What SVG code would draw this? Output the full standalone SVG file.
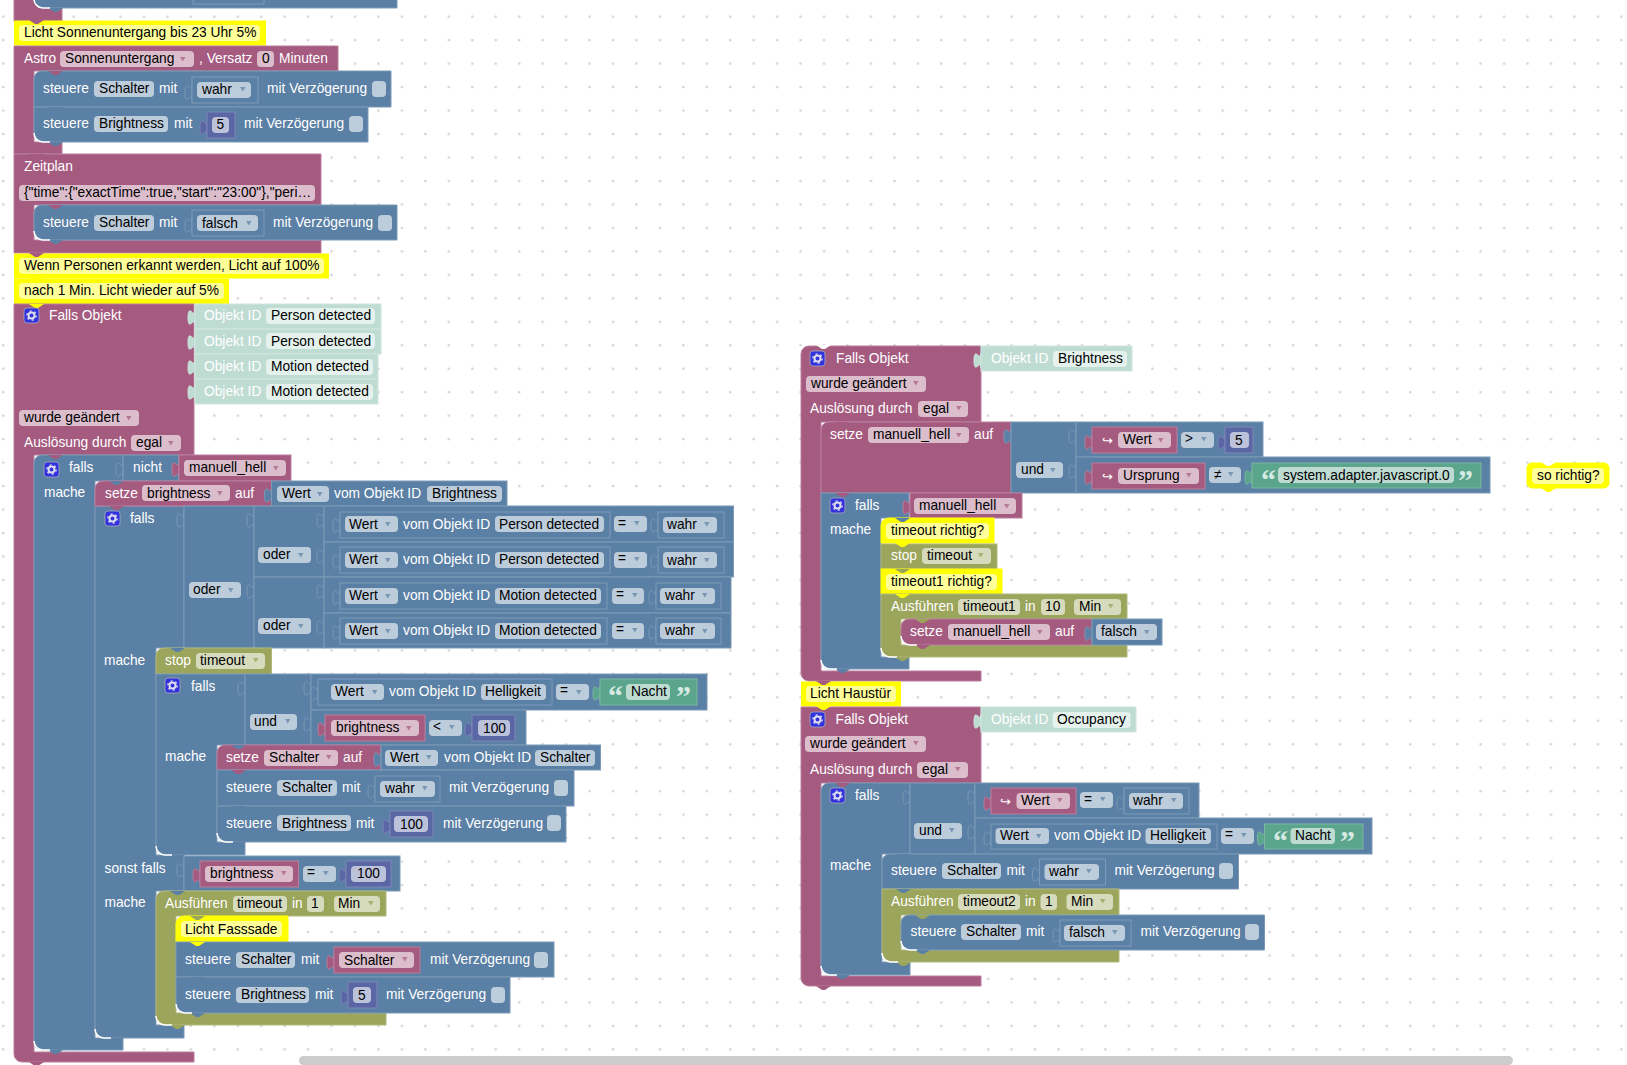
<svg xmlns="http://www.w3.org/2000/svg" width="1627" height="1065" viewBox="0 0 1627 1065">
<style>
text{font-family:"Liberation Sans",Arial,sans-serif;font-size:13.75px}
.t{fill:#fff}.d{fill:#000}
.m{fill:#a55b80;stroke:#bb7f9e}.b{fill:#5b80a5;stroke:#7c99b7}.o{fill:#9ba55b;stroke:#b0b87c}.n{fill:#5b67a5;stroke:#7c85b7}.g{fill:#5ba58c;stroke:#7cb7a3}.y{fill:#ff0;stroke:#ff0}.l{fill:#bfdcd3;stroke:#d0e6de}
.nm{fill:#a55b80}.nb{fill:#5b80a5}.no{fill:#9ba55b}.ny{fill:#ff0}.nw{fill:#fff}
.f{fill:#fff;opacity:.6;height:16px;rx:4px;ry:4px}
.am{fill:#a55b80;opacity:.7}.ab{fill:#5b80a5;opacity:.7}.ao{fill:#9ba55b;opacity:.8}
.w{fill:none;stroke:#fff;stroke-width:1.5}
.q{font-family:"Liberation Serif",serif;font-size:30px;font-weight:bold;fill:#d6eae3}
.ar{font-family:"DejaVu Sans",sans-serif;font-size:13px;fill:#fff}
</style>
<defs>
<pattern id="grid" width="23.45" height="23.47" patternUnits="userSpaceOnUse"><circle cx="3.3" cy="16.7" r="1.3" fill="#d2d2d2"/></pattern>
<path id="c" d="M0,0l6,4h3l6,-4z"/>
<path id="p" d="M0,5c0,10 -7,-8 -7,7.5s7,-2.5 7,7.5z"/>
<path id="a" d="M1,0h5.500l-2.750,4.500z"/>
<path id="k" class="w" d="M0,-9a9,9 0 0 0 9,9h7"/>
<g id="i"><rect x="0" y="0" width="15" height="15" rx="3" fill="#3333dd" stroke="#aab" stroke-width=".8"/><circle cx="7.5" cy="7.5" r="3" fill="none" stroke="#dde" stroke-width="2"/><circle cx="7.5" cy="7.5" r="4.6" fill="none" stroke="#dde" stroke-width="1.4" stroke-dasharray="2 2.8"/></g>
</defs>
<rect width="1627" height="1065" fill="#fff"/>
<rect width="1627" height="1065" fill="url(#grid)"/>

<g id="top-remnant">
<rect class="m" x="14" y="-5" width="48" height="26"/>
<path class="b" d="M34,-10H397V8H42a8,8 0 0 1 -8,-8z"/>
<rect class="b" x="193" y="-6" width="71" height="10"/>
<use href="#c" class="nb" x="48" y="8"/><use href="#k" x="34" y="8"/>
</g>
<g id="comment-sunset">
<rect class="y" x="14.500" y="21" width="251" height="24"/><use href="#c" class="nm" x="29" y="20"/>
<rect class="f" x="19" y="25" width="241"/><text class="d" x="24" y="37">Licht Sonnenuntergang bis 23 Uhr 5%</text>
<use href="#c" class="ny" x="29" y="45"/>
</g>
<g id="astro">
<path class="m" d="M14,46H338V71H34V142H62V154H14z"/>
<text class="t" x="24" y="63">Astro</text>
<rect class="f" x="60" y="51" width="134"/><text class="d" x="65" y="63">Sonnenuntergang</text><use href="#a" class="am" x="179" y="57"/>
<text class="t" x="199" y="63">, Versatz</text>
<rect class="f" x="257" y="51" width="17"/><text class="d" x="262" y="63">0</text>
<text class="t" x="279" y="63">Minuten</text>
</g>
<g id="astro-schalter">
<path class="b" d="M42,71H391V107H34V79a8,8 0 0 1 8,-8z"/><use href="#c" class="nm" x="48" y="71"/>
<text class="t" x="43" y="93">steuere</text>
<rect class="f" x="94" y="81" width="60"/><text class="d" x="99" y="93">Schalter</text>
<text class="t" x="159" y="93">mit</text>
<use href="#p" class="b" x="192" y="80"/><rect class="b" x="192" y="77" width="66" height="26"/>
<rect class="f" x="197" y="82" width="54"/><text class="d" x="202" y="94">wahr</text><use href="#a" class="ab" x="239" y="87"/>
<text class="t" x="267" y="93">mit Verzögerung</text>
<rect class="f" x="372" y="81" width="14"/>
</g>
<g id="astro-brightness">
<path class="b" d="M34,107H368V142H42a8,8 0 0 1 -8,-8z"/><use href="#c" class="nb" x="48" y="107"/>
<text class="t" x="43" y="128">steuere</text>
<rect class="f" x="94" y="116" width="74"/><text class="d" x="99" y="128">Brightness</text>
<text class="t" x="174" y="128">mit</text>
<use href="#p" class="n" x="207" y="115"/><rect class="n" x="207" y="112" width="28" height="26"/>
<rect class="f" x="212" y="117" width="17"/><text class="d" x="216.500" y="129">5</text>
<text class="t" x="244" y="128">mit Verzögerung</text>
<rect class="f" x="349" y="116" width="14"/>
<use href="#c" class="nb" x="48" y="142"/><use href="#k" x="34" y="142"/>
</g>
<g id="zeitplan">
<path class="m" d="M14,154H321V205H34V240H321V253H14z"/><use href="#c" class="nm" x="29" y="154"/>
<text class="t" x="24" y="171">Zeitplan</text>
<rect class="f" x="19" y="185" width="296"/><text class="d" x="24" y="197">{"time":{"exactTime":true,"start":"23:00"},"peri…</text>
</g>
<g id="zeitplan-schalter">
<path class="b" d="M42,205H397V240H42a8,8 0 0 1 -8,-8V213a8,8 0 0 1 8,-8z"/><use href="#c" class="nm" x="48" y="205"/>
<text class="t" x="43" y="227">steuere</text>
<rect class="f" x="94" y="215" width="60"/><text class="d" x="99" y="227">Schalter</text>
<text class="t" x="159" y="227">mit</text>
<use href="#p" class="b" x="192" y="213"/><rect class="b" x="192" y="210" width="72" height="26"/>
<rect class="f" x="197" y="215" width="61"/><text class="d" x="202" y="228">falsch</text><use href="#a" class="ab" x="245" y="221"/>
<text class="t" x="273" y="227">mit Verzögerung</text>
<rect class="f" x="378" y="215" width="14"/>
<use href="#c" class="nb" x="48" y="240"/><use href="#k" x="34" y="240"/>
</g>
<g id="comment-personen">
<rect class="y" x="14.500" y="254" width="314" height="24"/><use href="#c" class="nm" x="29" y="253"/>
<rect class="f" x="19" y="258" width="305"/><text class="d" x="24" y="270">Wenn Personen erkannt werden, Licht auf 100%</text>
</g>
<g id="comment-minute">
<rect class="y" x="14.500" y="279" width="214" height="25"/><use href="#c" class="ny" x="29" y="278"/>
<rect class="f" x="19" y="283" width="205"/><text class="d" x="24" y="295">nach 1 Min. Licht wieder auf 5%</text>
</g>

<g id="trigger-left">
<path class="m" d="M14,304H194V455H34V1052H194V1062H22a8,8 0 0 1 -8,-8z"/><use href="#c" class="ny" x="29" y="304"/>
<use href="#i" x="24" y="308"/><text class="t" x="49" y="320">Falls Objekt</text>
<rect class="f" x="19" y="410" width="120"/><text class="d" x="24" y="422">wurde geändert</text><use href="#a" class="am" x="125" y="416"/>
<text class="t" x="24" y="447">Auslösung durch</text>
<rect class="f" x="131" y="435" width="50"/><text class="d" x="136" y="447">egal</text><use href="#a" class="am" x="167" y="441"/>
<use href="#c" class="nm" x="29" y="1062"/>
</g>
<g id="oid-person1"><use href="#p" class="l" x="195" y="305"/><rect class="l" x="195" y="304" width="186" height="25"/><text class="t" x="204" y="320">Objekt ID</text><rect class="f" x="266" y="308" width="109"/><text class="d" x="271" y="320">Person detected</text></g>
<g id="oid-person2"><use href="#p" class="l" x="195" y="330"/><rect class="l" x="195" y="329" width="186" height="25"/><text class="t" x="204" y="346">Objekt ID</text><rect class="f" x="266" y="333" width="109"/><text class="d" x="271" y="346">Person detected</text></g>
<g id="oid-motion1"><use href="#p" class="l" x="195" y="355"/><rect class="l" x="195" y="354" width="183" height="25"/><text class="t" x="204" y="371">Objekt ID</text><rect class="f" x="266" y="359" width="107"/><text class="d" x="271" y="371">Motion detected</text></g>
<g id="oid-motion2"><use href="#p" class="l" x="195" y="380"/><rect class="l" x="195" y="379" width="183" height="25"/><text class="t" x="204" y="396">Objekt ID</text><rect class="f" x="266" y="384" width="107"/><text class="d" x="271" y="396">Motion detected</text></g>

<g id="falls1">
<path class="b" d="M42,455H123V481H95V1038H123V1050H42a8,8 0 0 1 -8,-8V463a8,8 0 0 1 8,-8z"/><use href="#c" class="nm" x="48" y="455"/>
<use href="#i" x="44" y="462"/><text class="t" x="69" y="472">falls</text>
<text class="t" x="44" y="497">mache</text>
<use href="#c" class="nb" x="48" y="1050"/><use href="#k" x="34" y="1050"/>
</g>
<g id="nicht"><use href="#p" class="b" x="123" y="457"/><rect class="b" x="123" y="455" width="56" height="26"/><text class="t" x="133" y="472">nicht</text></g>
<g id="var-manuell1"><use href="#p" class="m" x="179" y="457"/><rect class="m" x="179" y="455" width="112" height="26"/><rect class="f" x="184" y="460" width="102"/><text class="d" x="189" y="472">manuell_hell</text><use href="#a" class="am" x="272" y="466"/></g>
<g id="falls2">
<path class="b" d="M103,506H184V648H156V855H184V891H156V1025H184V1038H103a8,8 0 0 1 -8,-8V506z"/>
<use href="#i" x="105" y="511"/><text class="t" x="130" y="523">falls</text>
<text class="t" x="104" y="665">mache</text>
<text class="t" x="104.500" y="873">sonst falls</text>
<text class="t" x="104.500" y="907">mache</text>
<use href="#c" class="nb" x="109" y="1038"/><use href="#k" x="95" y="1038"/>
</g>
<g id="setze-brightness">
<path class="m" d="M103,481H271.500V506H95V489a8,8 0 0 1 8,-8z"/><use href="#c" class="nb" x="109" y="481"/>
<text class="t" x="105" y="498">setze</text>
<rect class="f" x="142" y="485" width="88"/><text class="d" x="147" y="498">brightness</text><use href="#a" class="am" x="216" y="491"/>
<text class="t" x="235" y="498">auf</text>
<use href="#c" class="nm" x="109" y="506"/>
</g>
<g id="wert-brightness"><use href="#p" class="b" x="271.500" y="483"/><rect class="b" x="271.500" y="481" width="235.500" height="25"/><rect class="f" x="277" y="486" width="52"/><text class="d" x="282" y="498">Wert</text><use href="#a" class="ab" x="316" y="492"/><text class="t" x="334" y="498">vom Objekt ID</text><rect class="f" x="427" y="486" width="75"/><text class="d" x="432" y="498">Brightness</text></g>
<g id="oder-outer"><use href="#p" class="b" x="184" y="508"/><rect class="b" x="184" y="506" width="70" height="142"/><rect class="f" x="189" y="582" width="52"/><text class="d" x="193" y="594">oder</text><use href="#a" class="ab" x="227" y="588"/></g>
<g id="oder-a"><use href="#p" class="b" x="254" y="508"/><rect class="b" x="254" y="506" width="70" height="71"/><rect class="f" x="258" y="547" width="53"/><text class="d" x="263" y="559">oder</text><use href="#a" class="ab" x="297" y="553"/></g>
<g id="oder-b"><use href="#p" class="b" x="254" y="579"/><rect class="b" x="254" y="577" width="70" height="71"/><rect class="f" x="258" y="618" width="53"/><text class="d" x="263" y="630">oder</text><use href="#a" class="ab" x="297" y="624"/></g>

<g id="cmp-person1"><use href="#p" class="b" x="324" y="508"/><rect class="b" x="324" y="506" width="409.500" height="36"/>
<use href="#p" class="b" x="340" y="513"/><rect class="b" x="340" y="512" width="270" height="26"/><rect class="f" x="345" y="516" width="53"/><text class="d" x="349" y="529">Wert</text><use href="#a" class="ab" x="384" y="522"/><text class="t" x="403" y="529">vom Objekt ID</text><rect class="f" x="495" y="516" width="109"/><text class="d" x="499" y="529">Person detected</text>
<rect class="f" x="614" y="516" width="33"/><text class="d" x="618" y="528">=</text><use href="#a" class="ab" x="633" y="521"/>
<use href="#p" class="b" x="658" y="513"/><rect class="b" x="658" y="512" width="66" height="26"/><rect class="f" x="663" y="517" width="54"/><text class="d" x="667" y="529">wahr</text><use href="#a" class="ab" x="703" y="522"/></g>
<g id="cmp-person2"><use href="#p" class="b" x="324" y="544"/><rect class="b" x="324" y="542" width="409.500" height="35"/>
<use href="#p" class="b" x="340" y="549"/><rect class="b" x="340" y="547" width="270" height="26"/><rect class="f" x="345" y="552" width="53"/><text class="d" x="349" y="564">Wert</text><use href="#a" class="ab" x="384" y="558"/><text class="t" x="403" y="564">vom Objekt ID</text><rect class="f" x="495" y="552" width="109"/><text class="d" x="499" y="564">Person detected</text>
<rect class="f" x="614" y="552" width="33"/><text class="d" x="618" y="563">=</text><use href="#a" class="ab" x="633" y="557"/>
<use href="#p" class="b" x="658" y="549"/><rect class="b" x="658" y="547" width="66" height="26"/><rect class="f" x="663" y="552" width="54"/><text class="d" x="667" y="565">wahr</text><use href="#a" class="ab" x="703" y="558"/></g>
<g id="cmp-motion1"><use href="#p" class="b" x="324" y="579"/><rect class="b" x="324" y="577" width="407" height="36"/>
<use href="#p" class="b" x="340" y="585"/><rect class="b" x="340" y="583" width="267" height="26"/><rect class="f" x="345" y="588" width="53"/><text class="d" x="349" y="600">Wert</text><use href="#a" class="ab" x="384" y="594"/><text class="t" x="403" y="600">vom Objekt ID</text><rect class="f" x="495" y="588" width="106"/><text class="d" x="499" y="600">Motion detected</text>
<rect class="f" x="612" y="588" width="32"/><text class="d" x="616" y="599">=</text><use href="#a" class="ab" x="631" y="593"/>
<use href="#p" class="b" x="656" y="585"/><rect class="b" x="656" y="583" width="65" height="26"/><rect class="f" x="660" y="588" width="55"/><text class="d" x="665" y="600">wahr</text><use href="#a" class="ab" x="701" y="593"/></g>
<g id="cmp-motion2"><use href="#p" class="b" x="324" y="615"/><rect class="b" x="324" y="613" width="407" height="35"/>
<use href="#p" class="b" x="340" y="620"/><rect class="b" x="340" y="618" width="267" height="26"/><rect class="f" x="345" y="623" width="53"/><text class="d" x="349" y="635">Wert</text><use href="#a" class="ab" x="384" y="629"/><text class="t" x="403" y="635">vom Objekt ID</text><rect class="f" x="495" y="623" width="106"/><text class="d" x="499" y="635">Motion detected</text>
<rect class="f" x="612" y="623" width="32"/><text class="d" x="616" y="634">=</text><use href="#a" class="ab" x="631" y="628"/>
<use href="#p" class="b" x="656" y="620"/><rect class="b" x="656" y="618" width="65" height="26"/><rect class="f" x="660" y="623" width="55"/><text class="d" x="665" y="635">wahr</text><use href="#a" class="ab" x="701" y="629"/></g>

<g id="stop-timeout-left">
<path class="o" d="M164,648H271.500V674H156V656a8,8 0 0 1 8,-8z"/><use href="#c" class="nb" x="170" y="648"/>
<text class="t" x="165" y="665">stop</text><rect class="f" x="196" y="653" width="69"/><text class="d" x="200" y="665">timeout</text><use href="#a" class="ao" x="252" y="658"/>
<use href="#c" class="no" x="170" y="674"/>
</g>
<g id="falls3">
<path class="b" d="M156,674H245V745H217V842H245V855H164a8,8 0 0 1 -8,-8z"/>
<use href="#i" x="165" y="678"/><text class="t" x="191" y="691">falls</text>
<text class="t" x="165" y="761">mache</text>
<use href="#c" class="nb" x="170" y="855"/><use href="#k" x="156" y="855"/>
</g>
<g id="und-left"><use href="#p" class="b" x="245" y="676"/><rect class="b" x="245" y="674" width="66" height="71"/><rect class="f" x="250" y="714" width="47"/><text class="d" x="254" y="726">und</text><use href="#a" class="ab" x="284" y="719"/></g>
<g id="cmp-helligkeit"><use href="#p" class="b" x="311" y="676"/><rect class="b" x="311" y="674" width="396" height="36"/>
<use href="#p" class="b" x="318" y="681"/><rect class="b" x="318" y="679" width="234" height="26"/><rect class="f" x="331" y="684" width="53"/><text class="d" x="335" y="696">Wert</text><use href="#a" class="ab" x="371" y="690"/><text class="t" x="389" y="696">vom Objekt ID</text><rect class="f" x="481" y="684" width="65"/><text class="d" x="485" y="696">Helligkeit</text>
<rect class="f" x="556" y="684" width="33"/><text class="d" x="560" y="695">=</text><use href="#a" class="ab" x="575" y="690"/>
<use href="#p" class="g" x="600" y="681"/><rect class="g" x="600" y="679" width="97" height="26"/><text class="q" x="608" y="706">“</text><rect class="f" x="626" y="684" width="44"/><text class="d" x="631" y="696">Nacht</text><text class="q" x="676" y="706">”</text></g>
<g id="cmp-brightness"><use href="#p" class="b" x="311" y="712"/><rect class="b" x="311" y="710" width="215" height="35"/>
<use href="#p" class="m" x="325" y="717"/><rect class="m" x="325" y="715" width="100" height="26"/><rect class="f" x="331" y="720" width="88"/><text class="d" x="336" y="732">brightness</text><use href="#a" class="am" x="405" y="726"/>
<rect class="f" x="429" y="720" width="33"/><text class="d" x="433" y="731">&lt;</text><use href="#a" class="ab" x="448" y="725"/>
<use href="#p" class="n" x="472" y="717"/><rect class="n" x="472" y="715" width="43" height="26"/><rect class="f" x="478" y="720" width="32"/><text class="d" x="483" y="733">100</text></g>
<g id="setze-schalter">
<path class="m" d="M225,745H381V770H217V753a8,8 0 0 1 8,-8z"/><use href="#c" class="nb" x="231" y="745"/>
<text class="t" x="226" y="762">setze</text><rect class="f" x="264" y="750" width="74"/><text class="d" x="269" y="762">Schalter</text><use href="#a" class="am" x="325" y="755"/><text class="t" x="343" y="762">auf</text>
<use href="#c" class="nm" x="231" y="770"/>
</g>
<g id="wert-schalter"><use href="#p" class="b" x="381" y="747"/><rect class="b" x="381" y="745" width="219.500" height="25"/><rect class="f" x="385" y="750" width="53"/><text class="d" x="390" y="762">Wert</text><use href="#a" class="ab" x="425" y="755"/><text class="t" x="444" y="762">vom Objekt ID</text><rect class="f" x="535" y="750" width="60"/><text class="d" x="540" y="762">Schalter</text></g>
<g id="steuere-schalter-left">
<rect class="b" x="217" y="770" width="357" height="36"/>
<use href="#c" class="nm" x="231" y="770"/>
<text class="t" x="226" y="792">steuere</text><rect class="f" x="277" y="780" width="60"/><text class="d" x="282" y="792">Schalter</text><text class="t" x="342" y="792">mit</text>
<use href="#p" class="b" x="375" y="779"/><rect class="b" x="375" y="776" width="65" height="26"/><rect class="f" x="380" y="781" width="55"/><text class="d" x="385" y="793">wahr</text><use href="#a" class="ab" x="421" y="786"/>
<text class="t" x="449" y="792">mit Verzögerung</text><rect class="f" x="554" y="780" width="14"/>
</g>
<g id="steuere-brightness-100">
<path class="b" d="M217,806H566V842H225a8,8 0 0 1 -8,-8z"/><use href="#c" class="nb" x="231" y="806"/>
<text class="t" x="226" y="828">steuere</text><rect class="f" x="277" y="815" width="74"/><text class="d" x="282" y="828">Brightness</text><text class="t" x="356" y="828">mit</text>
<use href="#p" class="n" x="390" y="814"/><rect class="n" x="390" y="811" width="43" height="26"/><rect class="f" x="394" y="816" width="34"/><text class="d" x="400" y="829">100</text>
<text class="t" x="443" y="828">mit Verzögerung</text><rect class="f" x="547" y="815" width="14"/>
<use href="#c" class="nb" x="231" y="842"/><use href="#k" x="217" y="842"/>
</g>
<g id="sonst-cmp"><use href="#p" class="b" x="184" y="858"/><rect class="b" x="184" y="856" width="216" height="35"/>
<use href="#p" class="m" x="200" y="863"/><rect class="m" x="200" y="861" width="98.500" height="26"/><rect class="f" x="205" y="866" width="88"/><text class="d" x="210" y="878">brightness</text><use href="#a" class="am" x="280" y="871"/>
<rect class="f" x="303" y="866" width="33"/><text class="d" x="307" y="877">=</text><use href="#a" class="ab" x="322" y="871"/>
<use href="#p" class="n" x="346" y="863"/><rect class="n" x="346" y="861" width="45" height="26"/><rect class="f" x="351" y="866" width="35"/><text class="d" x="357" y="878">100</text></g>
<g id="ausfuehren-timeout">
<path class="o" d="M164,891H386V916H176V1013H386V1025H164a8,8 0 0 1 -8,-8V899a8,8 0 0 1 8,-8z"/><use href="#c" class="nb" x="170" y="891"/>
<text class="t" x="165" y="908">Ausführen</text><rect class="f" x="233" y="896" width="54"/><text class="d" x="237" y="908">timeout</text><text class="t" x="292" y="908">in</text><rect class="f" x="307" y="896" width="17"/><text class="d" x="311" y="908">1</text><rect class="f" x="334" y="896" width="46"/><text class="d" x="338" y="908">Min</text><use href="#a" class="ao" x="367" y="901"/>
<use href="#c" class="no" x="170" y="1025"/><use href="#k" x="156" y="1025"/>
</g>
<g id="comment-fassade">
<path class="y" d="M184,916H288V942H176V924a8,8 0 0 1 8,-8z"/><use href="#c" class="no" x="190" y="916"/>
<rect class="f" x="181" y="921" width="101"/><text class="d" x="185" y="934">Licht Fasssade</text>
</g>
<g id="steuere-schalter-fassade">
<rect class="b" x="176" y="942" width="378" height="35"/><use href="#c" class="ny" x="190" y="942"/>
<text class="t" x="185" y="964">steuere</text><rect class="f" x="236" y="952" width="59"/><text class="d" x="241" y="964">Schalter</text><text class="t" x="301" y="964">mit</text>
<use href="#p" class="m" x="334" y="950"/><rect class="m" x="334" y="947" width="86" height="26"/><rect class="f" x="339" y="952" width="75"/><text class="d" x="344" y="965">Schalter</text><use href="#a" class="am" x="401" y="957"/>
<text class="t" x="430" y="964">mit Verzögerung</text><rect class="f" x="534" y="952" width="14"/>
</g>
<g id="steuere-brightness-5">
<path class="b" d="M176,977H510V1013H184a8,8 0 0 1 -8,-8z"/><use href="#c" class="nb" x="190" y="977"/>
<text class="t" x="185" y="999">steuere</text><rect class="f" x="236" y="987" width="73"/><text class="d" x="241" y="999">Brightness</text><text class="t" x="315" y="999">mit</text>
<use href="#p" class="n" x="348" y="985"/><rect class="n" x="348" y="982" width="29" height="26"/><rect class="f" x="353" y="987" width="18"/><text class="d" x="358" y="1000">5</text>
<text class="t" x="386" y="999">mit Verzögerung</text><rect class="f" x="491" y="987" width="14"/>
<use href="#c" class="nb" x="190" y="1013"/><use href="#k" x="176" y="1013"/>
</g>

<g id="trigger-right1">
<path class="m" d="M809,346H981V422H821V671H981V681H809a8,8 0 0 1 -8,-8V354a8,8 0 0 1 8,-8z"/><use href="#c" class="nw" x="816" y="345"/>
<use href="#i" x="810" y="351"/><text class="t" x="836" y="363">Falls Objekt</text>
<rect class="f" x="806" y="376" width="120"/><text class="d" x="811" y="388">wurde geändert</text><use href="#a" class="am" x="912" y="381"/>
<text class="t" x="810" y="413">Auslösung durch</text>
<rect class="f" x="918" y="401" width="50"/><text class="d" x="923" y="413">egal</text><use href="#a" class="am" x="955" y="406"/>
<use href="#c" class="nm" x="816" y="681"/>
</g>
<g id="oid-brightness"><use href="#p" class="l" x="981" y="348"/><rect class="l" x="981" y="346" width="151" height="25"/><text class="t" x="991" y="363">Objekt ID</text><rect class="f" x="1053" y="351" width="74"/><text class="d" x="1058" y="363">Brightness</text></g>
<g id="setze-manuell-top">
<path class="m" d="M829,422H1011V493H821V430a8,8 0 0 1 8,-8z"/><use href="#c" class="nm" x="835" y="422"/>
<text class="t" x="830" y="439">setze</text><rect class="f" x="868" y="427" width="101"/><text class="d" x="873" y="439">manuell_hell</text><use href="#a" class="am" x="955" y="433"/><text class="t" x="974" y="439">auf</text>
<use href="#c" class="nm" x="835" y="493"/>
</g>
<g id="und-right1"><use href="#p" class="b" x="1011" y="424"/><rect class="b" x="1011" y="422" width="65" height="71"/><rect class="f" x="1016" y="462" width="47"/><text class="d" x="1021" y="474">und</text><use href="#a" class="ab" x="1049" y="468"/></g>
<g id="cmp-wert5"><use href="#p" class="b" x="1076" y="424"/><rect class="b" x="1076" y="422" width="187" height="35"/>
<use href="#p" class="m" x="1092" y="430"/><rect class="m" x="1092" y="427" width="85" height="26"/><text class="ar" x="1102" y="445">↪</text><rect class="f" x="1118" y="432" width="53"/><text class="d" x="1123" y="444">Wert</text><use href="#a" class="am" x="1157" y="438"/>
<rect class="f" x="1181" y="432" width="33"/><text class="d" x="1185" y="443">&gt;</text><use href="#a" class="ab" x="1200" y="437"/>
<use href="#p" class="n" x="1225" y="430"/><rect class="n" x="1225" y="427" width="28" height="26"/><rect class="f" x="1230" y="432" width="19"/><text class="d" x="1235" y="445">5</text></g>
<g id="cmp-ursprung"><use href="#p" class="b" x="1076" y="459"/><rect class="b" x="1076" y="457" width="414" height="36"/>
<use href="#p" class="m" x="1092" y="465"/><rect class="m" x="1092" y="463" width="113" height="26"/><text class="ar" x="1102" y="481">↪</text><rect class="f" x="1118" y="468" width="81"/><text class="d" x="1123" y="480">Ursprung</text><use href="#a" class="am" x="1185" y="473"/>
<rect class="f" x="1209" y="467" width="32"/><text class="d" x="1214" y="479">≠</text><use href="#a" class="ab" x="1227" y="472"/>
<use href="#p" class="g" x="1252" y="465"/><rect class="g" x="1252" y="463" width="229" height="25"/><text class="q" x="1261" y="490">“</text><rect class="f" x="1278" y="467" width="176"/><text class="d" x="1283" y="480">system.adapter.javascript.0</text><text class="q" x="1458" y="490">”</text></g>
<g id="comment-so-richtig">
<rect class="y" x="1527" y="463" width="82" height="25" rx="5"/><use href="#c" class="nw" x="1541" y="462"/><use href="#c" class="ny" x="1541" y="488"/>
<rect class="f" x="1532" y="468" width="72"/><text class="d" x="1537" y="480">so richtig?</text>
</g>
<g id="falls-right1">
<path class="b" d="M821,493H909V518H881V657H909V669H829a8,8 0 0 1 -8,-8z"/><use href="#c" class="nm" x="835" y="493"/>
<use href="#i" x="830" y="498"/><text class="t" x="855" y="510">falls</text><text class="t" x="830" y="534">mache</text>
<use href="#c" class="nb" x="835" y="669"/><use href="#k" x="821" y="669"/>
</g>
<g id="var-manuell2"><use href="#p" class="m" x="910" y="495"/><rect class="m" x="910" y="493" width="112" height="25"/><rect class="f" x="914" y="498" width="102"/><text class="d" x="919" y="510">manuell_hell</text><use href="#a" class="am" x="1003" y="504"/></g>
<g id="comment-timeout">
<path class="y" d="M889,518H994V543H881V526a8,8 0 0 1 8,-8z"/><use href="#c" class="nb" x="895" y="518"/>
<rect class="f" x="886" y="523" width="103"/><text class="d" x="891" y="535">timeout richtig?</text>
<use href="#c" class="ny" x="895" y="543"/>
</g>
<g id="stop-timeout-right"><rect class="o" x="881" y="544" width="116" height="25"/><use href="#c" class="ny" x="895" y="543"/><text class="t" x="891" y="560">stop</text><rect class="f" x="922" y="548" width="69"/><text class="d" x="927" y="560">timeout</text><use href="#a" class="ao" x="977" y="553"/><use href="#c" class="no" x="895" y="569"/></g>
<g id="comment-timeout1"><rect class="y" x="881" y="569" width="121" height="25"/><use href="#c" class="no" x="895" y="569"/><rect class="f" x="886" y="574" width="111"/><text class="d" x="891" y="586">timeout1 richtig?</text><use href="#c" class="ny" x="895" y="594"/></g>
<g id="ausfuehren-timeout1">
<path class="o" d="M881,594H1127V619H901V645H1127V657H889a8,8 0 0 1 -8,-8z"/><use href="#c" class="ny" x="895" y="594"/>
<text class="t" x="891" y="611">Ausführen</text><rect class="f" x="958" y="599" width="62"/><text class="d" x="963" y="611">timeout1</text><text class="t" x="1025" y="611">in</text><rect class="f" x="1041" y="599" width="24"/><text class="d" x="1045" y="611">10</text><rect class="f" x="1074" y="599" width="47"/><text class="d" x="1079" y="611">Min</text><use href="#a" class="ao" x="1107" y="604"/>
<use href="#c" class="no" x="895" y="657"/><use href="#k" x="881" y="657"/>
</g>
<g id="setze-manuell-falsch">
<path class="m" d="M909,619H1092V645H909a8,8 0 0 1 -8,-8V627a8,8 0 0 1 8,-8z"/><use href="#c" class="no" x="915" y="619"/>
<text class="t" x="910" y="636">setze</text><rect class="f" x="948" y="624" width="102"/><text class="d" x="953" y="636">manuell_hell</text><use href="#a" class="am" x="1036" y="630"/><text class="t" x="1055" y="636">auf</text>
<use href="#c" class="nm" x="915" y="645"/><use href="#k" x="901" y="645"/>
</g>
<g id="falsch-right"><use href="#p" class="b" x="1092" y="621"/><rect class="b" x="1092" y="619" width="70" height="26"/><rect class="f" x="1096" y="624" width="61"/><text class="d" x="1101" y="636">falsch</text><use href="#a" class="ab" x="1143" y="630"/></g>

<g id="comment-haustuer"><rect class="y" x="801.500" y="682" width="99" height="24"/><use href="#c" class="nm" x="816" y="681"/><rect class="f" x="806" y="686" width="90"/><text class="d" x="810" y="698">Licht Haustür</text></g>
<g id="trigger-right2">
<path class="m" d="M801,707H981V783H821V976H981V986H809a8,8 0 0 1 -8,-8z"/><use href="#c" class="ny" x="816" y="706"/>
<use href="#i" x="810" y="712"/><text class="t" x="835.500" y="724">Falls Objekt</text>
<rect class="f" x="805" y="736" width="121"/><text class="d" x="810" y="748">wurde geändert</text><use href="#a" class="am" x="912" y="741"/>
<text class="t" x="810" y="774">Auslösung durch</text>
<rect class="f" x="917" y="762" width="51"/><text class="d" x="922" y="774">egal</text><use href="#a" class="am" x="954" y="767"/>
<use href="#c" class="nm" x="816" y="986"/>
</g>
<g id="oid-occupancy"><use href="#p" class="l" x="981" y="709"/><rect class="l" x="981" y="707" width="155" height="25"/><text class="t" x="991" y="724">Objekt ID</text><rect class="f" x="1052.500" y="712" width="78"/><text class="d" x="1057" y="724">Occupancy</text></g>
<g id="falls-right2">
<path class="b" d="M829,783H910V854H882V962H910V975H829a8,8 0 0 1 -8,-8V791a8,8 0 0 1 8,-8z"/><use href="#c" class="nm" x="835" y="783"/>
<use href="#i" x="830" y="788"/><text class="t" x="855" y="800">falls</text><text class="t" x="830" y="870">mache</text>
<use href="#c" class="nb" x="835" y="975"/><use href="#k" x="821" y="975"/>
</g>
<g id="und-right2"><use href="#p" class="b" x="910" y="785"/><rect class="b" x="910" y="783" width="65" height="71"/><rect class="f" x="914" y="823" width="48"/><text class="d" x="919" y="835">und</text><use href="#a" class="ab" x="948" y="828"/></g>
<g id="cmp-wert-wahr"><use href="#p" class="b" x="975" y="785"/><rect class="b" x="975" y="783" width="224" height="35"/>
<use href="#p" class="m" x="991" y="791"/><rect class="m" x="991" y="788" width="85" height="26"/><text class="ar" x="1000" y="806">↪</text><rect class="f" x="1016.500" y="793" width="53.500"/><text class="d" x="1021" y="805">Wert</text><use href="#a" class="am" x="1056" y="798"/>
<rect class="f" x="1080" y="792" width="33"/><text class="d" x="1084" y="804">=</text><use href="#a" class="ab" x="1099" y="797"/>
<use href="#p" class="b" x="1124" y="791"/><rect class="b" x="1124" y="788" width="65" height="26"/><rect class="f" x="1129" y="793" width="54"/><text class="d" x="1133" y="805">wahr</text><use href="#a" class="ab" x="1170" y="798"/></g>
<g id="cmp-helligkeit-right"><use href="#p" class="b" x="975" y="820"/><rect class="b" x="975" y="818" width="397" height="36"/>
<use href="#p" class="b" x="991" y="826"/><rect class="b" x="991" y="824" width="226" height="25"/><rect class="f" x="995.500" y="828" width="53.500"/><text class="d" x="1000" y="840">Wert</text><use href="#a" class="ab" x="1035" y="834"/><text class="t" x="1054" y="840">vom Objekt ID</text><rect class="f" x="1145.500" y="828" width="65.500"/><text class="d" x="1150" y="840">Helligkeit</text>
<rect class="f" x="1221" y="828" width="33"/><text class="d" x="1225" y="839">=</text><use href="#a" class="ab" x="1240" y="833"/>
<use href="#p" class="g" x="1264.500" y="826"/><rect class="g" x="1264.500" y="824" width="98.500" height="25"/><text class="q" x="1273" y="851">“</text><rect class="f" x="1290.500" y="828" width="44.500"/><text class="d" x="1295" y="840">Nacht</text><text class="q" x="1340" y="851">”</text></g>
<g id="steuere-schalter-right">
<path class="b" d="M890,854H1238.500V889H882V862a8,8 0 0 1 8,-8z"/><use href="#c" class="nb" x="896" y="854"/>
<text class="t" x="891" y="875">steuere</text><rect class="f" x="942" y="863" width="59"/><text class="d" x="947" y="875">Schalter</text><text class="t" x="1006.500" y="875">mit</text>
<use href="#p" class="b" x="1039.500" y="862"/><rect class="b" x="1039.500" y="859" width="66" height="26"/><rect class="f" x="1044.500" y="864" width="54.500"/><text class="d" x="1049" y="876">wahr</text><use href="#a" class="ab" x="1085" y="869"/>
<text class="t" x="1114.500" y="875">mit Verzögerung</text><rect class="f" x="1219" y="863" width="14"/>
<use href="#c" class="nb" x="896" y="889"/>
</g>
<g id="ausfuehren-timeout2">
<path class="o" d="M882,889H1119V915H901V950H1119V962H890a8,8 0 0 1 -8,-8z"/><use href="#c" class="nb" x="896" y="889"/>
<text class="t" x="891" y="906">Ausführen</text><rect class="f" x="958" y="894" width="62"/><text class="d" x="963" y="906">timeout2</text><text class="t" x="1025" y="906">in</text><rect class="f" x="1040.500" y="894" width="16.500"/><text class="d" x="1045" y="906">1</text><rect class="f" x="1066.500" y="894" width="46.500"/><text class="d" x="1071" y="906">Min</text><use href="#a" class="ao" x="1099" y="899"/>
<use href="#c" class="no" x="896" y="962"/><use href="#k" x="882" y="962"/>
</g>
<g id="steuere-schalter-falsch">
<path class="b" d="M909,915H1264.500V950H909a8,8 0 0 1 -8,-8V923a8,8 0 0 1 8,-8z"/><use href="#c" class="no" x="915" y="915"/>
<text class="t" x="910.500" y="936">steuere</text><rect class="f" x="961" y="924" width="60"/><text class="d" x="966" y="936">Schalter</text><text class="t" x="1026" y="936">mit</text>
<use href="#p" class="b" x="1060" y="923"/><rect class="b" x="1060" y="920" width="71" height="26"/><rect class="f" x="1064" y="925" width="61"/><text class="d" x="1069" y="937">falsch</text><use href="#a" class="ab" x="1111" y="930"/>
<text class="t" x="1140.500" y="936">mit Verzögerung</text><rect class="f" x="1245" y="924" width="14"/>
<use href="#c" class="nb" x="915" y="950"/><use href="#k" x="901" y="950"/>
</g>
<rect id="scrollbar" x="299" y="1056" width="1214" height="9" rx="4.500" fill="#ccc"/>
</svg>
